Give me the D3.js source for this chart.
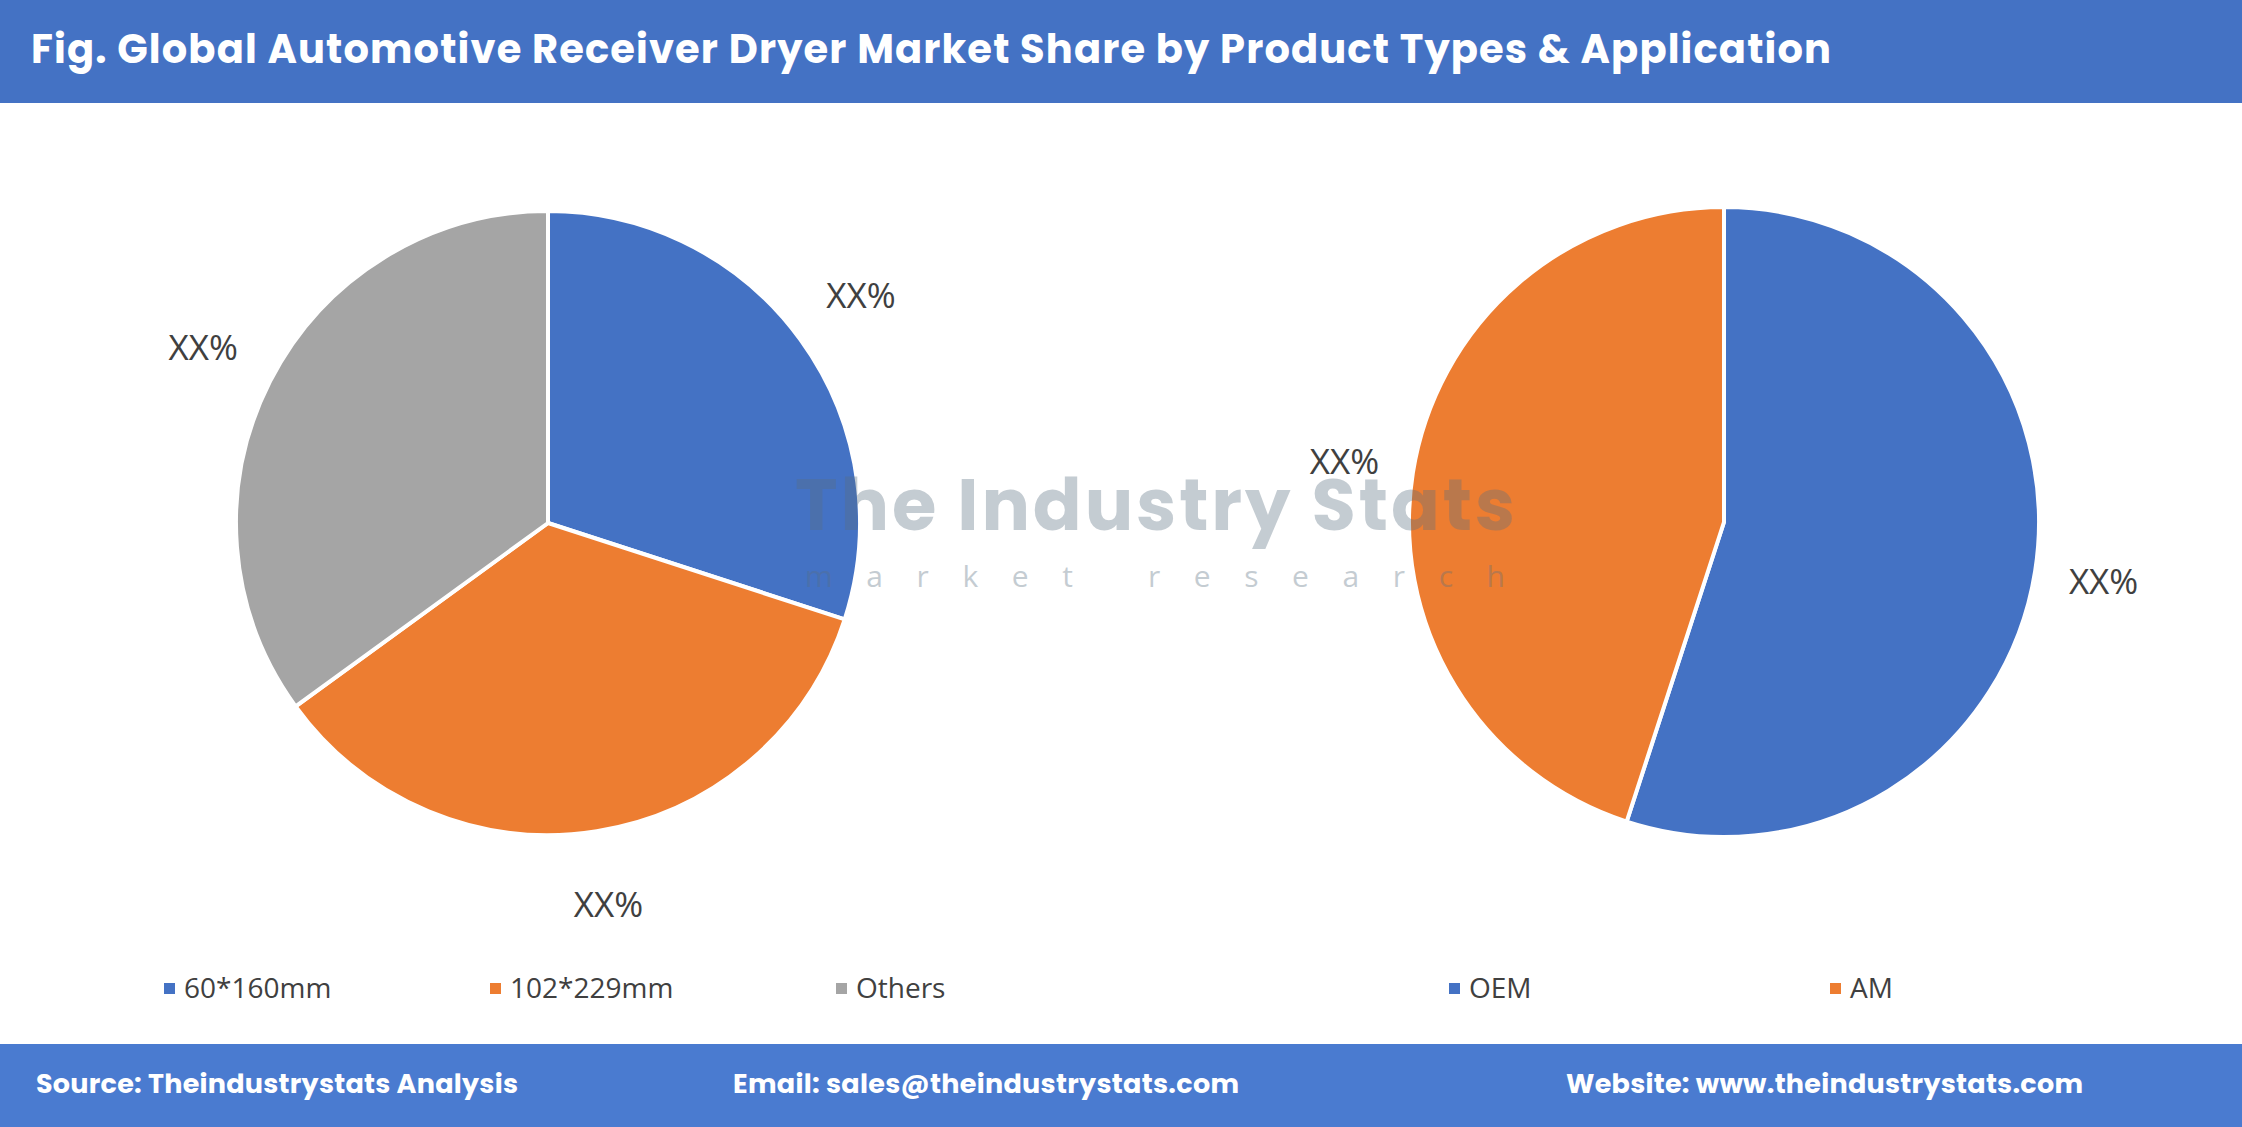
<!DOCTYPE html>
<html><head><meta charset="utf-8">
<script src="https://cdn.jsdelivr.net/npm/d3@7"></script>
<style>body{margin:0;background:#fff}svg{display:block}</style>
</head><body>
<script>
const title = "Fig. Global Automotive Receiver Dryer Market Share by Product Types & Application";
const typeCategories = ["60*160mm", "102*229mm", "Others"];
const typeValues = [30, 35, 35];
const appCategories = ["OEM", "AM"];
const appValues = [55, 45];
const sliceLabels = ["XX%", "XX%", "XX%"];
const colors = ["#4472C4", "#ED7D31", "#A5A5A5"];
const footer = ["Source: Theindustrystats Analysis", "Email: sales@theindustrystats.com", "Website: www.theindustrystats.com"];

const W = 2242, H = 1127;
const svg = d3.select("body").append("svg").attr("width", W).attr("height", H);
const font = "'Open Sans', 'Noto Sans', sans-serif";
const bfont = "Poppins, 'Open Sans', 'Noto Sans', sans-serif";

svg.append("rect").attr("width", W).attr("height", 103).attr("fill", "#4472C4");
svg.append("text").attr("x", 31).attr("y", 63).attr("fill", "#fff").attr("font-family", bfont)
  .attr("font-weight", "bold").attr("font-size", 40).attr("textLength", 1800).text(title);

svg.append("rect").attr("y", 1044).attr("width", W).attr("height", 83).attr("fill", "#4A7BD0");
const fl = [482, 506, 517];
[36, 733, 1566].forEach((x, i) => svg.append("text").attr("x", x).attr("y", 1093)
  .attr("fill", "#fff").attr("font-family", bfont).attr("font-weight", "bold").attr("font-size", 27)
  .attr("textLength", fl[i]).text(footer[i]));

const pieLayer = svg.append("g");
const wm = svg.append("g").attr("opacity", 0.35);
const labelLayer = svg.append("g");

function drawPie(cx, cy, r, cats, vals, labelPos) {
  const pie = d3.pie().sort(null).value(d => d)(vals);
  const arc = d3.arc().innerRadius(0).outerRadius(r);
  const g = pieLayer.append("g").attr("transform", `translate(${cx},${cy})`);
  g.selectAll("path").data(pie).join("path").attr("d", arc)
    .attr("fill", (d, i) => colors[i]).attr("stroke", "#fff").attr("stroke-width", 4);
  const lab = d3.arc().innerRadius(r * labelPos).outerRadius(r * labelPos);
  labelLayer.append("g").attr("transform", `translate(${cx},${cy})`)
    .selectAll("text").data(pie).join("text")
    .attr("transform", d => `translate(${lab.centroid(d)})`)
    .attr("text-anchor", "middle").attr("dy", "0.35em")
    .attr("font-family", font).attr("font-size", 35).attr("fill", "#404040")
    .text((d, i) => sliceLabels[i]);
}
drawPie(548, 523, 312, typeCategories, typeValues, 1.24);
drawPie(1724, 522, 315, appCategories, appValues, 1.22);

wm.append("text").attr("x", 795).attr("y", 530).attr("font-family", bfont).attr("font-weight", "bold")
  .attr("font-size", 72).attr("textLength", 720).attr("fill", "#5a6f80").text("The Industry Stats");
wm.append("text").attr("x", 805).attr("y", 587).attr("font-family", font)
  .attr("font-size", 30).attr("textLength", 700).attr("fill", "#5a6f80").text("market research");

function legend(xs, cats) {
  cats.forEach((c, i) => {
    svg.append("rect").attr("x", xs[i] - 6).attr("y", 983).attr("width", 11).attr("height", 11).attr("fill", colors[i]);
    svg.append("text").attr("x", xs[i] + 14).attr("y", 998).attr("font-family", font)
      .attr("font-size", 28).attr("fill", "#404040").text(c);
  });
}
legend([170, 496, 842], typeCategories);
legend([1455, 1836], appCategories);
</script>
</body></html>
